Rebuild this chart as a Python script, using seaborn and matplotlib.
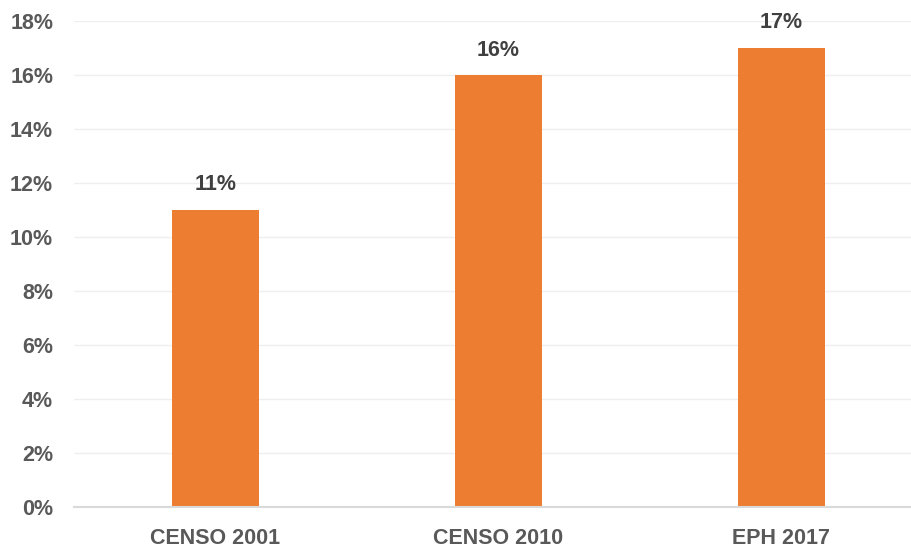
import matplotlib
matplotlib.use("Agg")
import matplotlib.pyplot as plt
import seaborn as sns
import pandas as pd
from matplotlib.ticker import FuncFormatter

categories = ["CENSO 2001", "CENSO 2010", "EPH 2017"]
values = [11, 16, 17]
yticks = [0, 2, 4, 6, 8, 10, 12, 14, 16, 18]

sns.set_theme(style="white")
plt.rcParams['font.family'] = ['Liberation Sans', 'DejaVu Sans']

df = pd.DataFrame({"cat": categories, "val": values})

fig = plt.figure(figsize=(9.12, 5.47), dpi=100)
ax = fig.add_axes([74/912, 40/547, 849/912, 486/547])

sns.barplot(data=df, x="cat", y="val", color="#ED7D31", width=0.31,
            saturation=1, ax=ax, edgecolor="none")

ax.set_ylim(0, 18)
ax.set_xlim(-0.5, 2.5)
ax.set_yticks(yticks)
ax.yaxis.set_major_formatter(FuncFormatter(lambda v, p: f"{int(v)}%"))
ax.grid(axis="y", color="#EFEFEF", linewidth=1)
ax.set_axisbelow(True)
for s in ["top", "right", "left"]:
    ax.spines[s].set_visible(False)
ax.spines["bottom"].set_color("#D9D9D9")
ax.spines["bottom"].set_linewidth(1.5)
ax.set_xlabel("")
ax.set_ylabel("")
ax.tick_params(axis="both", length=0, labelsize=15.5, colors="#595959")
ax.tick_params(axis="y", pad=15)
ax.tick_params(axis="x", pad=15)
for lab in ax.get_xticklabels() + ax.get_yticklabels():
    lab.set_fontweight("bold")
    lab.set_color("#595959")

for i, v in enumerate(values):
    ax.annotate(f"{v}%", xy=(i, v), xytext=(0, 18), textcoords="offset points",
                ha="center", va="center", fontsize=15.5, fontweight="bold",
                color="#404040")

fig.savefig("out.png", dpi=100)
